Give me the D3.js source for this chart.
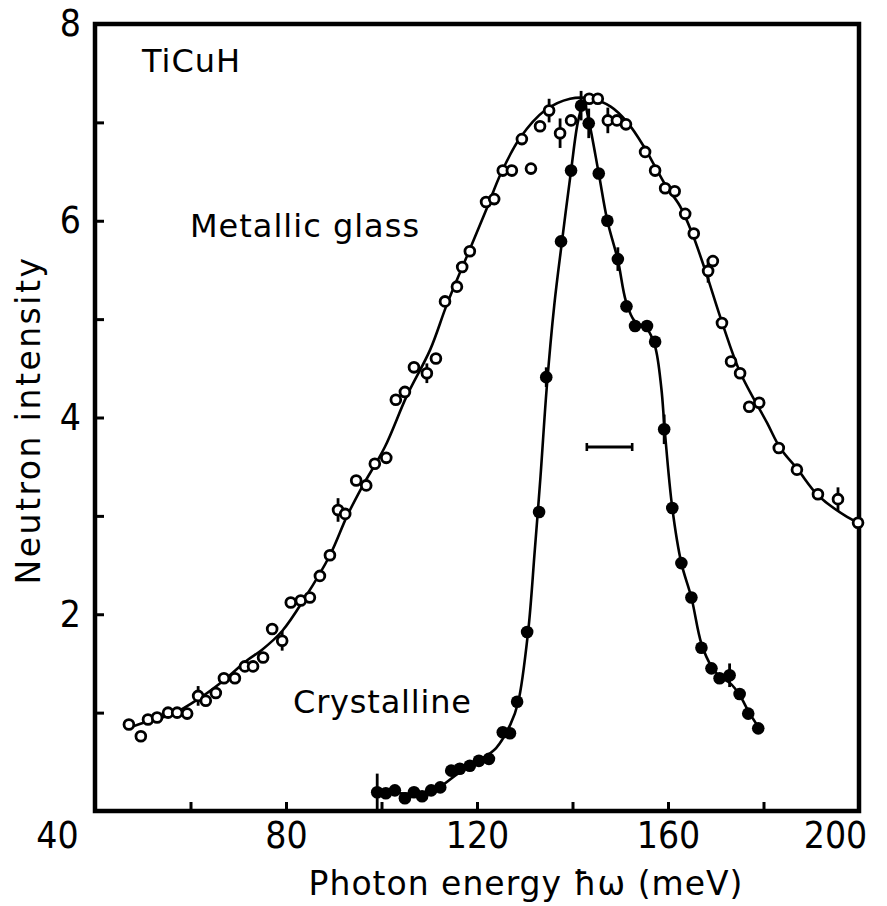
<!DOCTYPE html>
<html>
<head>
<meta charset="utf-8">
<script src="https://cdn.jsdelivr.net/npm/d3@7"></script>
<style>
  body { margin: 0; background: #fff; }
  text { fill: #000; }
</style>
</head>
<body>
<div id="chart"></div>
<script>
// Metallic glass (open circles)
const mgX = [47.1, 49.6, 51.1, 53.0, 55.3, 57.2, 59.3, 61.6, 63.2, 65.3, 67.0, 69.3, 71.4, 73.1, 75.2, 77.1, 79.2,
  81.0, 83.1, 85.0, 87.1, 89.2, 90.9, 92.4, 94.7, 96.8, 98.6, 101.0, 103.0, 104.9, 106.8, 109.5, 111.4, 113.3,
  115.8, 116.9, 118.5, 121.9, 123.6, 125.4, 127.3, 129.4, 131.3, 133.2, 135.1, 137.4, 139.7, 143.5, 145.3, 147.4,
  149.3, 151.2, 155.2, 157.3, 159.4, 161.4, 163.6, 165.4, 168.4, 169.4, 171.3, 173.2, 175.1, 177.0, 179.1, 183.2,
  187.0, 191.4, 195.6, 199.8];
const mgY = [0.88, 0.76, 0.93, 0.95, 1.0, 1.0, 0.99, 1.17, 1.12, 1.2, 1.35, 1.35, 1.47, 1.47, 1.56, 1.85, 1.73,
  2.12, 2.14, 2.17, 2.39, 2.6, 3.06, 3.02, 3.36, 3.31, 3.53, 3.59, 4.18, 4.26, 4.51, 4.45, 4.60, 5.18,
  5.33, 5.53, 5.69, 6.19, 6.22, 6.51, 6.51, 6.83, 6.53, 6.96, 7.12, 6.89, 7.02, 7.24, 7.24, 7.02,
  7.02, 6.98, 6.70, 6.51, 6.33, 6.30, 6.07, 5.87, 5.49, 5.59, 4.96, 4.57, 4.45, 4.11, 4.15, 3.69,
  3.47, 3.22, 3.17, 2.93];
const mgErr = {61.6: 0.1, 79.2: 0.1, 90.9: 0.12, 109.5: 0.1, 135.1: 0.12, 137.4: 0.15, 147.4: 0.13, 168.4: 0.12, 195.6: 0.12};

// fitted curve through the metallic glass data
const mgCurveX = [48, 51.5, 56, 62, 67, 71.8, 75, 79.2, 84, 89.2, 92.8, 96, 100.7, 105.3, 110.2, 113.7, 118.5, 122,
  125, 129, 134.2, 139.5, 144, 148, 151.5, 155, 157.3, 159.5, 162.5, 165, 167.7, 171.3, 175.1, 180.7, 183.5, 187.2, 191.4, 197.5, 200];
const mgCurveY = [0.86, 0.92, 0.98, 1.15, 1.33, 1.53, 1.64, 1.83, 2.17, 2.60, 3.00, 3.30, 3.70, 4.22, 4.69, 5.15, 5.71, 6.12,
  6.48, 6.84, 7.12, 7.24, 7.24, 7.16, 7.0, 6.75, 6.55, 6.36, 6.15, 5.88, 5.51, 4.97, 4.46, 3.95, 3.69, 3.47, 3.21, 2.99, 2.93];

// Crystalline (filled circles)
const crX = [99.1, 100.9, 102.8, 104.9, 106.8, 108.5, 110.4, 112.3, 114.6, 116.4, 118.5, 120.4, 122.5, 125.4, 126.9,
  128.4, 130.5, 133.0, 134.5, 137.6, 139.7, 141.8, 143.4, 145.5, 147.3, 149.5, 151.3, 153.1, 155.6, 157.3, 159.2,
  160.9, 162.8, 164.9, 167.0, 169.1, 170.8, 172.9, 175.0, 176.8, 178.9];
const crY = [0.19, 0.18, 0.21, 0.13, 0.19, 0.15, 0.21, 0.24, 0.41, 0.43, 0.46, 0.51, 0.53, 0.80, 0.79,
  1.11, 1.82, 3.04, 4.41, 5.79, 6.51, 7.17, 6.99, 6.48, 6.0, 5.61, 5.13, 4.93, 4.93, 4.77, 3.88,
  3.08, 2.52, 2.17, 1.66, 1.45, 1.35, 1.38, 1.19, 0.99, 0.84];
const crErr = {99.1: 0.19, 134.5: 0.1, 141.8: 0.15, 143.4: 0.15, 149.5: 0.12, 159.2: 0.15, 172.9: 0.12};

const crCurveX = [99, 104, 108, 112, 116, 120, 124, 127, 128.6, 130.7, 132.1, 133.3, 134.6, 136.2, 137.8, 139.7, 141.2,
  142.4, 143.4, 145.5, 147.3, 149.5, 151.2, 153, 155.6, 157.3, 158.6, 159.3, 160.9, 162.8, 164.9, 167, 169.1, 171, 173,
  175, 177, 179];
const crCurveY = [0.19, 0.18, 0.18, 0.24, 0.38, 0.5, 0.64, 0.88, 1.1, 1.82, 2.65, 3.4, 4.3, 5.15, 5.79, 6.51, 7.02,
  7.2, 7.02, 6.48, 6.0, 5.6, 5.18, 4.98, 4.9, 4.72, 4.3, 3.88, 3.08, 2.52, 2.17, 1.7, 1.47, 1.36, 1.3,
  1.18, 1.0, 0.85];

// instrumental resolution bar
const resolution = [143, 152.5];
const resolutionY = 3.7;

const xTicks = [40, 60, 80, 100, 120, 140, 160, 180, 200];
const yTicks = [1, 2, 3, 4, 5, 6, 7, 8];

// Setup
const W = 887, H = 906;
const margin = { top: 24, right: 28, bottom: 95, left: 95 };
const width = W - margin.left - margin.right;
const height = H - margin.top - margin.bottom;

const svg = d3.select("#chart").append("svg")
    .attr("width", W).attr("height", H)
  .append("g")
    .attr("transform", `translate(${margin.left},${margin.top})`);

const x = d3.scaleLinear().domain([40, 200]).range([0, width]);
const y = d3.scaleLinear().domain([0, 8]).range([height, 0]);

const numFont = "'Liberation Sans Narrow', 'DejaVu Sans Condensed', sans-serif";
const txtFont = "'DejaVu Sans', sans-serif";

// axes with inward ticks
const xAxis = svg.append("g").attr("transform", `translate(0,${height})`)
  .call(d3.axisBottom(x).tickValues(xTicks).tickSize(-9).tickPadding(11)
    .tickFormat(d => d % 40 === 0 ? d : ""));
const yAxis = svg.append("g")
  .call(d3.axisLeft(y).tickValues(yTicks).tickSize(-9).tickPadding(14)
    .tickFormat(d => d % 2 === 0 ? d : ""));

[xAxis, yAxis].forEach(a => {
  a.select(".domain").remove();
  a.selectAll(".tick line").attr("stroke", "#000").attr("stroke-width", 3);
  a.selectAll(".tick text").style("font-family", numFont).style("font-size", "37px").attr("fill", "#000");
});
// end labels sit a little left of their ticks, as in the original
xAxis.selectAll(".tick text").attr("dx", d => d === 40 ? -38 : d === 200 ? -24 : 0);

// frame
svg.append("rect")
  .attr("x", 0).attr("y", 0).attr("width", width).attr("height", height)
  .attr("fill", "none").attr("stroke", "#000").attr("stroke-width", 4.5);

// curves
const line = d3.line().x(d => x(d[0])).y(d => y(d[1])).curve(d3.curveCatmullRom.alpha(0.5));

svg.append("path")
  .datum(d3.zip(mgCurveX, mgCurveY))
  .attr("d", line).attr("fill", "none").attr("stroke", "#000").attr("stroke-width", 2.6);

svg.append("path")
  .datum(d3.zip(crCurveX, crCurveY))
  .attr("d", line).attr("fill", "none").attr("stroke", "#000").attr("stroke-width", 2.6);

// error bars
function errRows(xs, errs) {
  return xs.map((v, i) => [v, i]).filter(r => errs[r[0]] !== undefined);
}
errRows(mgX, mgErr).forEach(([v, i]) => {
  svg.append("line").attr("x1", x(v)).attr("x2", x(v))
    .attr("y1", y(mgY[i] + mgErr[v])).attr("y2", y(mgY[i] - mgErr[v]))
    .attr("stroke", "#000").attr("stroke-width", 2.8);
});
errRows(crX, crErr).forEach(([v, i]) => {
  svg.append("line").attr("x1", x(v)).attr("x2", x(v))
    .attr("y1", y(crY[i] + crErr[v])).attr("y2", y(crY[i] - crErr[v]))
    .attr("stroke", "#000").attr("stroke-width", 2.8);
});

// markers
svg.append("g").selectAll("circle")
  .data(d3.zip(mgX, mgY)).join("circle")
    .attr("cx", d => x(d[0])).attr("cy", d => y(d[1])).attr("r", 4.9)
    .attr("fill", "#fff").attr("stroke", "#000").attr("stroke-width", 2.8);

svg.append("g").selectAll("circle")
  .data(d3.zip(crX, crY)).join("circle")
    .attr("cx", d => x(d[0])).attr("cy", d => y(d[1])).attr("r", 6.3)
    .attr("fill", "#000");

// resolution bar
svg.append("line")
  .attr("x1", x(resolution[0])).attr("x2", x(resolution[1]))
  .attr("y1", y(resolutionY)).attr("y2", y(resolutionY))
  .attr("stroke", "#000").attr("stroke-width", 3);
resolution.forEach(v => {
  svg.append("line").attr("x1", x(v)).attr("x2", x(v))
    .attr("y1", y(resolutionY) - 4).attr("y2", y(resolutionY) + 4)
    .attr("stroke", "#000").attr("stroke-width", 2.6);
});

// labels
svg.append("text").attr("x", 47).attr("y", 48).style("font-family", txtFont).style("font-size", "32px")
  .style("letter-spacing", "1px").text("TiCuH");
svg.append("text").attr("x", 95).attr("y", 213).style("font-family", txtFont).style("font-size", "32px")
  .style("letter-spacing", "1px").text("Metallic glass");
svg.append("text").attr("x", 198).attr("y", 689).style("font-family", txtFont).style("font-size", "32px")
  .style("letter-spacing", "0.8px").text("Crystalline");

svg.append("text").attr("x", 431).attr("y", height + 84)
  .style("text-anchor", "middle").style("font-family", txtFont).style("font-size", "33px")
  .style("letter-spacing", "1px")
  .text("Photon energy \u0127\u03c9 (meV)");
svg.append("text").attr("transform", "rotate(-90)")
  .attr("x", -396).attr("y", -55)
  .style("text-anchor", "middle").style("font-family", txtFont).style("font-size", "33px")
  .style("letter-spacing", "2.5px")
  .text("Neutron intensity");
</script>
</body>
</html>
